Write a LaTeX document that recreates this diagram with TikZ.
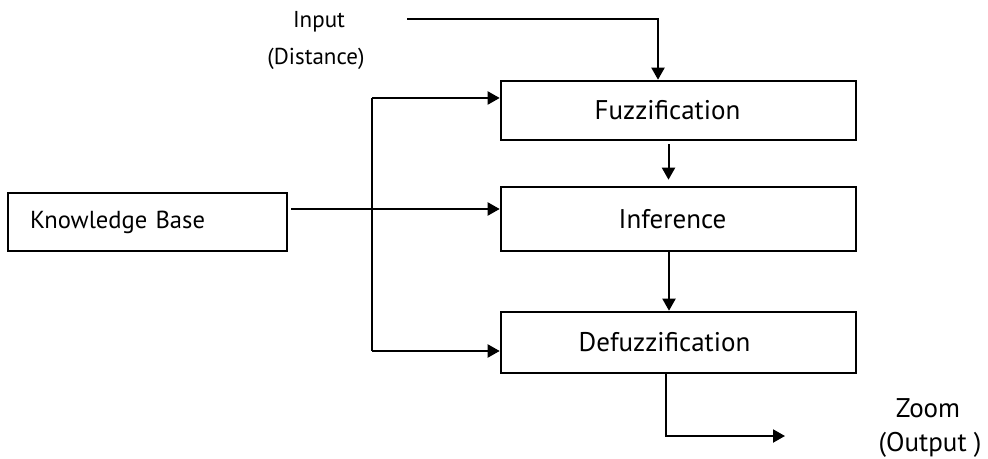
\documentclass[tikz,border=0pt]{standalone}
\usepackage{fontspec}
\setmainfont{PT Sans}
\usetikzlibrary{arrows.meta}

\tikzset{
	block/.style={draw, line width=1.3pt, minimum width=177.5pt, inner sep=0pt, font=\fontsize{13.5}{15}\selectfont},
	link/.style={line width=1pt, -{Triangle[length=6pt,width=6.5pt]}},
	label/.style={inner sep=0pt, font=\fontsize{11.5}{13}\selectfont}
}

\begin{document}
\begin{tikzpicture}[x=0.5pt, y=-0.5pt]
			\useasboundingbox (0,0) rectangle (988,459);
			% processing chain
			\node[block, minimum height=29.5pt] (fuzz) at (678.5,110.5) {Fuzzification\kern11pt};
			\node[block, minimum height=32pt] (inf) at (678.5,219) {Inference\kern6pt};
			\node[block, minimum height=30.5pt] (defz) at (678.5,342.5) {\raisebox{-2pt}{Defuzzification}\kern14pt};
			% rule base
			\node[draw, line width=1.3pt, minimum width=139.5pt, minimum height=29pt, inner sep=0pt,
				text width=117.5pt, align=left, font=\fontsize{12.3}{14}\selectfont] (kb) at (147.5,222) {Knowledge Base};
			% labels
			\node[label] (inlbl) at (319,22) {Input};
			\node[label] (inlbl2) at (316,59) {(Distance)};
			\node[label, font=\fontsize{13.5}{15}\selectfont] (outlbl) at (928,408) {Zoom};
			\node[label, font=\fontsize{13.5}{15}\selectfont] (outlbl2) at (930,445) {(Output )};
			% line ends
			\coordinate (inS) at (407,19);
			\coordinate (outE) at (785,436);
			\coordinate (busT) at (372,98);
			\coordinate (busB) at (372,351);
			% arrows
			\draw[link] (inS) -| ([xshift=-10.25pt]fuzz.north);
			\draw[link, shorten <=1.5pt, shorten >=3pt] ([xshift=-5pt]fuzz.south) -- ([xshift=-5pt]inf.north);
			\draw[link] ([xshift=-4.75pt]inf.south) -- ([xshift=-4.75pt]defz.north);
			\draw[link] ([xshift=-6.25pt]defz.south) |- (outE);
			\draw[link, shorten <=1.5pt] ([yshift=6.5pt]kb.east) -- ([yshift=6.5pt]kb.east -| inf.west);
			\draw[line width=1pt] (busT) -- (busB);
			\draw[link] (busT) -- (busT -| fuzz.west);
			\draw[link] (busB) -- (busB -| defz.west);
		\end{tikzpicture}
\end{document}
